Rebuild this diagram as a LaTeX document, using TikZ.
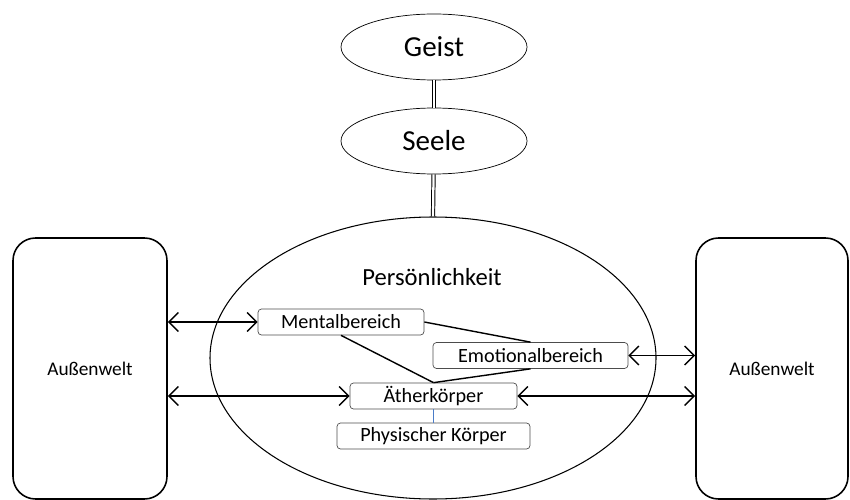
\documentclass[tikz,border=0pt]{standalone}
\usepackage{fontspec}
\setmainfont{Carlito}
\usetikzlibrary{arrows.meta,shapes.geometric}
\definecolor{koerperblau}{HTML}{4A7CC8}

\begin{document}
\begin{tikzpicture}[thin,
	>={Straight Barb[length=1.9mm,width=3.8mm]},
	oval/.style={ellipse,draw,minimum width=3.72cm,minimum height=1.32cm,font=\fontsize{16.5}{18}\selectfont},
	welt/.style={draw,line width=0.9pt,rounded corners=0.45cm,minimum height=5.22cm,font=\fontsize{11}{13}\selectfont},
	bereich/.style={draw=black!70,rounded corners=2pt,minimum height=0.52cm,inner sep=0pt,font=\fontsize{11.5}{13}\selectfont},
	band/.style={double,double distance=1.3pt,line width=0.55pt}]
	%page frame
	\useasboundingbox (0,0) rectangle (17,9.98);
	
	%upper levels
	\node[oval] (geist) at (8.68,9.04) {Geist};
	\node[oval] (seele) at (8.68,7.16) {Seele};
	
	%personality
	\node[ellipse,draw,line width=0.6pt,minimum width=8.92cm,minimum height=5.64cm] (pers) at (8.66,2.82) {};
	\node[font=\fontsize{14}{16}\selectfont] (perstitel) at (8.64,4.44) {Persönlichkeit};
	\draw[band] (geist) -- (seele);
	\draw[band] (seele) -- (pers.north);
	
	%outer world
	\node[welt,minimum width=3.08cm] (links) at (1.8,2.61) {Außenwelt};
	\node[welt,minimum width=3.04cm] (rechts) at (15.44,2.61) {Außenwelt};
	
	%bodies
	\node[bereich,minimum width=3.32cm] (mental) at (6.82,3.54) {Mentalbereich};
	\node[bereich,minimum width=3.9cm] (emotional) at (10.61,2.87) {Emotionalbereich};
	\node[bereich,minimum width=3.34cm] (aether) at (8.67,2.06) {Ätherkörper};
	\node[bereich,minimum width=3.86cm] (physisch) at (8.67,1.26) {Physischer Körper};
	
	%links between bodies
	\draw[line width=0.8pt] (mental.east) -- (emotional.north);
	\draw[line width=0.8pt] (mental.south) -- (aether.north);
	\draw[line width=0.8pt] (emotional.south) -- (aether.north);
	\draw[line width=0.8pt, koerperblau] (aether.south) -- (physisch.north);
	
	%exchange with the outer world
	\draw[<->, line width=0.8pt] (mental.west -| links.east) -- (mental.west);
	\draw[<->, line width=0.8pt] (aether.west -| links.east) -- (aether.west);
	\draw[<->, line width=0.8pt] (emotional.east) -- (emotional.east -| rechts.west);
	\draw[<->, line width=0.8pt] (aether.east) -- (aether.east -| rechts.west);
\end{tikzpicture}
\end{document}
